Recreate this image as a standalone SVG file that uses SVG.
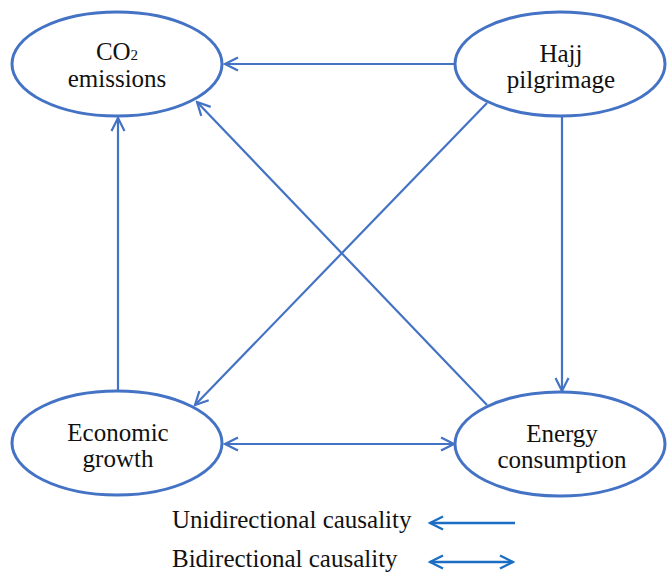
<svg xmlns="http://www.w3.org/2000/svg" width="667" height="573" viewBox="0 0 667 573">
<style>
.node{fill:#fff;stroke:#4472C4;stroke-width:3}
.lbl{font-family:'Liberation Serif','DejaVu Serif',serif;font-size:25px;fill:#111;text-anchor:middle}
.leg{font-family:'Liberation Serif','DejaVu Serif',serif;font-size:25px;fill:#111}
.edge{stroke:#4472C4;stroke-width:2.2;fill:none;marker-end:url(#ah)}
.legline{stroke:#1b6ec2;stroke-width:2.4;fill:none}
</style>
<defs>
<marker id="ah" viewBox="-14 -8 16 16" refX="0" refY="0" markerWidth="16" markerHeight="16" markerUnits="userSpaceOnUse" orient="auto-start-reverse">
<path d="M-13,-6.5 L0,0 L-13,6.5" fill="none" stroke="#4472C4" stroke-width="2.2" stroke-linejoin="miter"/>
</marker>
<marker id="lah" viewBox="-14 -8 16 16" refX="0" refY="0" markerWidth="16" markerHeight="16" markerUnits="userSpaceOnUse" orient="auto-start-reverse">
<path d="M-13,-6.5 L0,0 L-13,6.5" fill="none" stroke="#1b6ec2" stroke-width="2.4"/>
</marker>
</defs>
<g id="connectors">
<line class="edge" x1="455" y1="64" x2="225" y2="64"/>
<line class="edge" x1="487" y1="103" x2="195" y2="405"/>
<line class="edge" x1="487" y1="405" x2="197" y2="102"/>
<line class="edge" x1="118" y1="391" x2="118" y2="118"/>
<line class="edge" x1="562" y1="117" x2="562" y2="391"/>
<line class="edge" x1="225" y1="444" x2="454" y2="444" style="marker-start:url(#ah)"/>
</g>
<g id="co2">
<ellipse class="node" cx="117" cy="64" rx="105" ry="52"/>
<text class="lbl" x="117" y="60" font-family="Liberation Serif, serif">CO<tspan font-size="15">2</tspan></text>
<text class="lbl" x="117" y="87" font-family="Liberation Serif, serif">emissions</text>
</g>
<g id="hajj">
<ellipse class="node" cx="560" cy="64" rx="105" ry="52"/>
<text class="lbl" x="561" y="62">Hajj</text>
<text class="lbl" x="561" y="88">pilgrimage</text>
</g>
<g id="economic">
<ellipse class="node" cx="117" cy="443" rx="105" ry="52"/>
<text class="lbl" x="118" y="441">Economic</text>
<text class="lbl" x="118" y="467">growth</text>
</g>
<g id="energy">
<ellipse class="node" cx="560" cy="444" rx="105" ry="52"/>
<text class="lbl" x="562" y="442">Energy</text>
<text class="lbl" x="562" y="468">consumption</text>
</g>
<g id="legend">
<text class="leg" x="172" y="528">Unidirectional causality</text>
<line class="legline" x1="515" y1="523" x2="430" y2="523" marker-end="url(#lah)"/>
<text class="leg" x="172" y="567">Bidirectional causality</text>
<line class="legline" x1="430" y1="562" x2="513" y2="562" marker-end="url(#lah)" marker-start="url(#lah)"/>
</g>
</svg>
